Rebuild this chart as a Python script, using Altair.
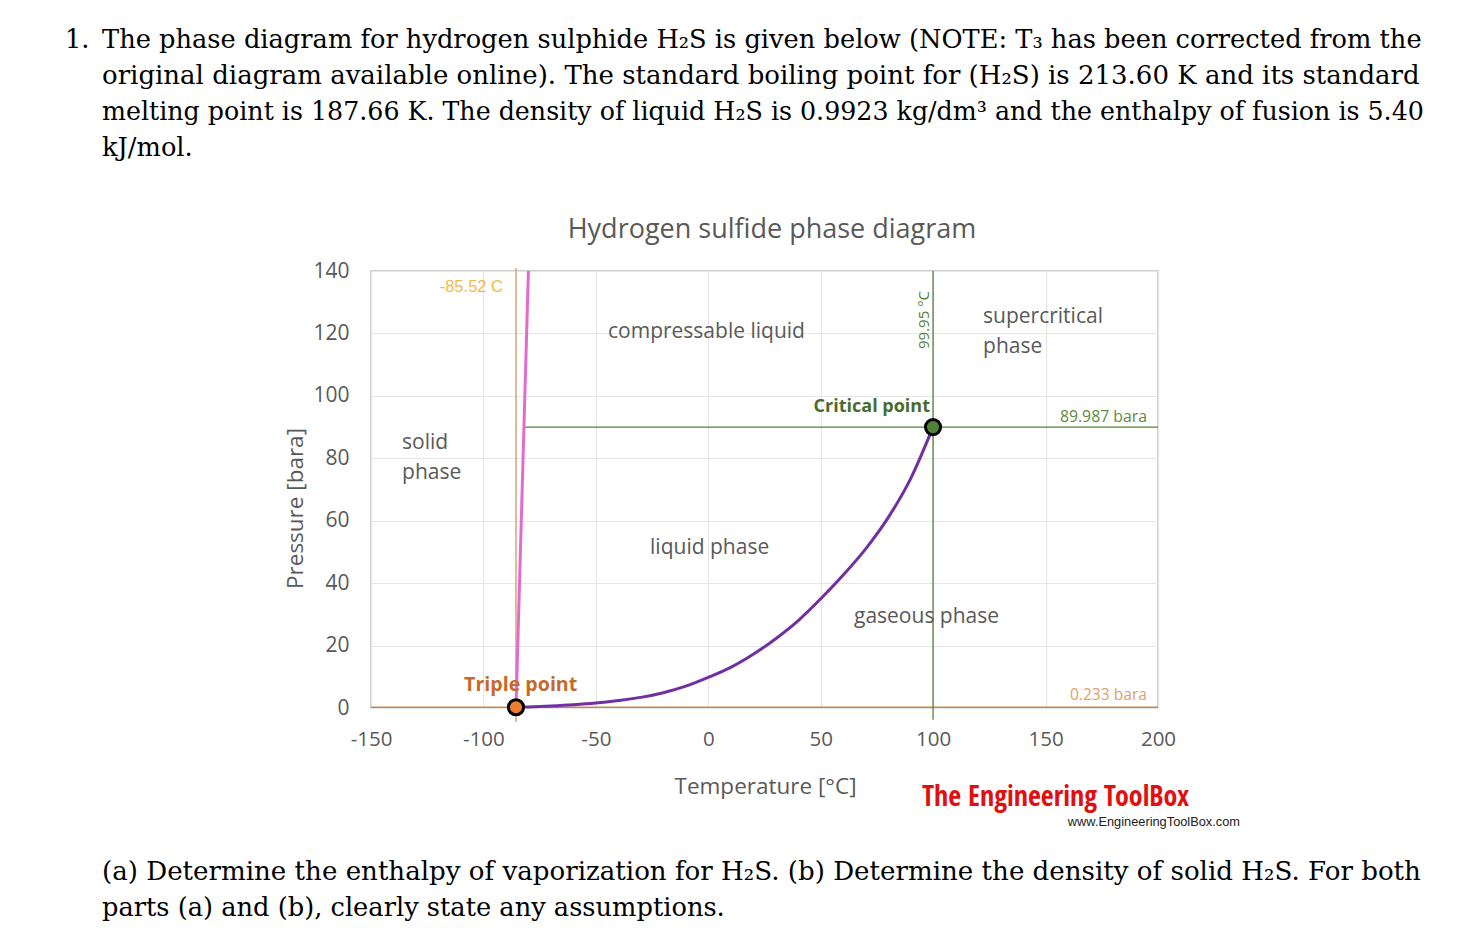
import altair as alt
import pandas as pd

# ---------------- data ----------------
vap_T = [-85.52, -80, -70, -60, -50, -40, -30, -20, -10, 0, 10, 20, 30, 40, 50, 60, 70, 80, 90, 99.95]
vap_P = [0.233, 0.35, 0.65, 1.05, 1.6, 2.4, 3.4, 4.9, 7.0, 9.8, 13.0, 17.2, 22.2, 28.0, 35.0, 42.6, 51.0, 61.0, 73.5, 89.987]

melt_T = [-85.52, -80.0]
melt_P = [0.233, 140.0]

triple_T, triple_P = -85.52, 0.233
crit_T, crit_P = 99.95, 89.987

x_ticks = [-150, -100, -50, 0, 50, 100, 150, 200]
y_ticks = [0, 20, 40, 60, 80, 100, 120, 140]

# reference lines: (T1, P1, T2, P2, colour)
rule_T1 = [-85.52, -150, 99.95, -81.5]
rule_P1 = [-4.5, 0.233, -3.8, 89.987]
rule_T2 = [-85.52, 200, 99.95, 200]
rule_P2 = [141.0, 0.233, 140.0, 89.987]
rule_col = ["#D39562", "#C9864F", "#548235", "#548235"]

para_top = [
    "The phase diagram for hydrogen sulphide H\u2082S is given below (NOTE: T\u2083 has been corrected from the",
    "original diagram available online).  The standard boiling point for (H\u2082S) is 213.60 K and its standard",
    "melting point is 187.66 K. The density of liquid H\u2082S is 0.9923 kg/dm\u00b3 and the enthalpy of fusion is 5.40",
    "kJ/mol.",
]
para_top_sizes = [25.7, 26.0, 25.3, 25.7]
para_bottom = [
    "(a) Determine the enthalpy of vaporization for H\u2082S. (b) Determine the density of solid H\u2082S. For both",
    "parts (a) and (b), clearly state any assumptions.",
]
para_bottom_sizes = [26.1, 25.7]

W, H = 787, 437
FONT = "Open Sans"
GREY = "#595959"
SERIF = "DejaVu Serif"

xs = alt.Scale(domain=[-150, 200], nice=False, zero=False)
ys = alt.Scale(domain=[0, 140], nice=False, zero=False)

XAXIS = alt.Axis(values=x_ticks, title="Temperature [°C]", grid=True, ticks=False, domain=False,
                 labelPadding=21, labelFontSize=20.5, labelColor=GREY, labelFont=FONT, labelFlush=False,
                 labelExpr="'' + datum.value",
                 titleFont=FONT, titleFontSize=22.5, titleColor=GREY, titleFontWeight="normal",
                 titleX=394, titleY=78, titleBaseline="middle", titleAlign="center",
                 gridColor="#E6E6E6", gridWidth=1.2)
YAXIS = alt.Axis(values=y_ticks, title="Pressure [bara]", grid=True, ticks=False, domain=False,
                 labelPadding=22, labelFontSize=21, labelColor=GREY, labelFont=FONT, labelFlush=False,
                 labelExpr="'' + datum.value",
                 titleFont=FONT, titleFontSize=22.5, titleColor=GREY, titleFontWeight="normal",
                 titleX=-76, titleY=237, titleAngle=270, titleBaseline="middle", titleAlign="center",
                 gridColor="#E6E6E6", gridWidth=1.2)


def X(f):
    return alt.X(f, scale=xs, axis=XAXIS)


def Y(f):
    return alt.Y(f, scale=ys, axis=YAXIS)


rules_df = pd.DataFrame({"T1": rule_T1, "P1": rule_P1, "T2": rule_T2, "P2": rule_P2, "c": rule_col})
rules = alt.Chart(rules_df).mark_rule(strokeWidth=1.3).encode(
    x=X("T1:Q"), y=Y("P1:Q"), x2="T2:Q", y2="P2:Q",
    color=alt.Color("c:N", scale=None),
)

melt = alt.Chart(pd.DataFrame({"T": melt_T, "P": melt_P})).mark_line(
    color="#E36BCF", strokeWidth=3).encode(x=X("T:Q"), y=Y("P:Q"))

vap = alt.Chart(pd.DataFrame({"T": vap_T, "P": vap_P})).mark_line(
    color="#7030A0", strokeWidth=3, interpolate="monotone").encode(x=X("T:Q"), y=Y("P:Q"))

pts_df = pd.DataFrame({"T": [triple_T, crit_T], "P": [triple_P, crit_P], "c": ["#ED7D31", "#548235"]})
pts = alt.Chart(pts_df).mark_point(filled=True, size=230, stroke="black", strokeWidth=3, opacity=1).encode(
    x=X("T:Q"), y=Y("P:Q"), fill=alt.Fill("c:N", scale=None))


def label(text, T, P, color=GREY, size=21, weight="normal", align="left", font=FONT, angle=0):
    kw = dict(color=color, fontSize=size, fontWeight=weight, align=align, baseline="middle", font=font)
    if angle:
        kw["angle"] = angle
    return alt.Chart(pd.DataFrame({"T": [T], "P": [P], "t": [text]})).mark_text(**kw).encode(
        x=X("T:Q"), y=Y("P:Q"), text="t:N")


labels = [
    label("solid", -136.2, 84.9),
    label("phase", -136.2, 75.3),
    label("compressable liquid", -44.6, 120.5),
    label("liquid phase", -25.9, 51.3),
    label("gaseous phase", 64.8, 29.2),
    label("supercritical", 122.2, 125.3),
    label("phase", 122.2, 115.7),
    label("-85.52 C", -91.3, 134.9, color="#F3B84A", size=16.5, align="right", font="Liberation Sans"),
    label("99.95 °C", 95.9, 124.3, color="#548235", size=15, align="center", angle=270),
    label("Critical point", 98.6, 96.4, color="#4A6B2E", size=18, weight="bold", align="right"),
    label("89.987 bara", 195.1, 93.2, color="#5E8A3E", size=15.8, align="right"),
    label("0.233 bara", 195.1, 4.2, color="#E0A06A", size=15.6, align="right"),
    label("Triple point", -108.6, 7.4, color="#C5692C", size=19.6, weight="bold"),
]


def pix(text, x, y, size, color="black", font=SERIF, weight="normal", align="left",
        baseline="alphabetic"):
    return alt.Chart(pd.DataFrame({"t": [text]})).mark_text(
        fontSize=size, color=color, font=font, fontWeight=weight, align=align, baseline=baseline).encode(
        x=alt.value(x), y=alt.value(y), text="t:N")


PX0, PY0 = 371, 271  # page position of plot origin
deco = [pix("1.", 65 - PX0, 48 - PY0, 25.7)]
for i, (line, sz) in enumerate(zip(para_top, para_top_sizes)):
    deco.append(pix(line, 102 - PX0, 48 + 36 * i - PY0, sz))
for i, (line, sz) in enumerate(zip(para_bottom, para_bottom_sizes)):
    deco.append(pix(line, 102 - PX0, 880 + 36 * i - PY0, sz))
deco.append(pix("Hydrogen sulfide phase diagram", 772 - PX0, 230 - PY0, 27, color=GREY, font=FONT,
                align="center", baseline="middle"))
deco.append(pix("The Engineering ToolBox", 922 - PX0, 798 - PY0, 28, color="#E01010",
                font="Open Sans Condensed, Noto Sans Condensed, Roboto Condensed, Liberation Sans Narrow, "
                     "Arial Narrow, DejaVu Sans Condensed, Roboto",
                weight="bold", baseline="middle"))
deco.append(pix("www.EngineeringToolBox.com", 1240 - PX0, 822 - PY0, 12.8, color="#222222",
                font="Liberation Sans", align="right", baseline="middle"))

chart = alt.layer(rules, melt, vap, pts, *labels, *deco).properties(
    width=W, height=H,
    autosize=alt.AutoSizeParams(type="none"),
    padding={"left": PX0 - 8, "top": PY0 - 8, "right": 1456 - W - (PX0 - 8), "bottom": 930 - H - (PY0 - 8)},
    background="white",
).configure_view(stroke="#BFBFBF", strokeWidth=1.5)

chart.save("out.html", embed_options={"renderer": "svg", "actions": False})
